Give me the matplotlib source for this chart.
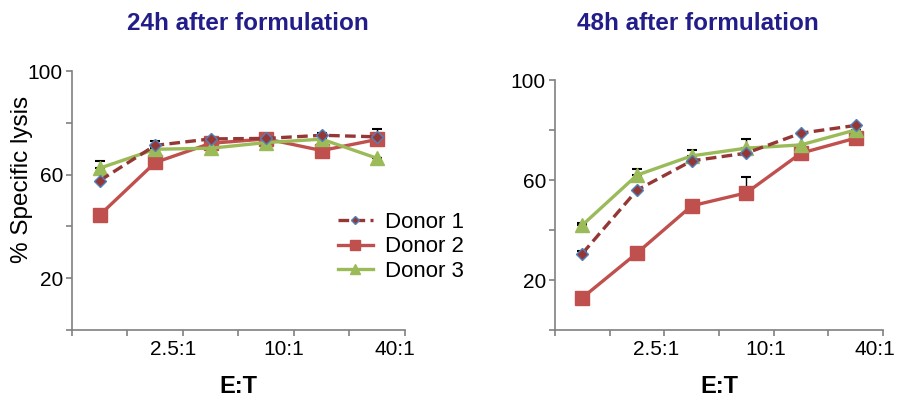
import matplotlib
matplotlib.use("Agg")
import matplotlib.pyplot as plt
from matplotlib.transforms import ScaledTranslation

plt.rcParams['font.family'] = ['Liberation Sans', 'DejaVu Sans']

# E:T categories (only every other one is labelled on the axis)
tick_labels = ['', '', '2.5:1', '', '10:1', '', '40:1']
x_pos = [0.5, 1.5, 2.5, 3.5, 4.5, 5.5]

# 24h after formulation
d1_24 = [57.7, 71.3, 73.8, 74.0, 75.2, 74.6]
d2_24 = [44.4, 64.7, 72.1, 73.8, 69.3, 73.6]
d3_24 = [62.5, 69.8, 70.2, 72.4, 73.7, 66.3]
d1_24_err = [0.0, 1.5, 0.0, 0.0, 1.0, 3.2]
d2_24_err = [0.0, 0.0, 0.0, 0.0, 0.0, 1.0]
d3_24_err = [2.6, 1.0, 0.0, 0.0, 0.0, 0.0]

# 48h after formulation
d1_48 = [30.6, 56.0, 67.7, 70.8, 78.8, 81.9]
d2_48 = [12.9, 30.8, 49.7, 54.9, 70.8, 76.8]
d3_48 = [42.0, 62.0, 69.7, 72.8, 74.1, 80.1]
d1_48_err = [1.0, 0.0, 0.0, 0.0, 0.0, 0.0]
d2_48_err = [0.0, 0.0, 0.0, 6.2, 0.0, 0.0]
d3_48_err = [0.8, 2.3, 2.4, 3.8, 0.0, 0.0]

labels = ['Donor 1', 'Donor 2', 'Donor 3']
c1 = '#953735'
c2 = '#C0504D'
c3 = '#9BBB59'
title_color = '#221D89'
spine_color = '#808080'

fig = plt.figure(figsize=(9.01, 3.99), dpi=100)
ax1 = fig.add_axes([0.0799, 0.1729, 0.3696, 0.649])
ax2 = fig.add_axes([0.616, 0.173, 0.364, 0.626])


def draw(ax, d1, d2, d3, e1, e2, e3, shift):
    for vals, errs in ((d1, e1), (d2, e2), (d3, e3)):
        ax.errorbar(x_pos, vals, yerr=[[0] * len(errs), errs], fmt='none',
                    ecolor='black', elinewidth=1, capsize=3.5, capthick=1.5, zorder=1)
    ax.plot(x_pos, d2, color=c2, lw=2.4, marker='s', ms=9.5, mec=c2, zorder=3, label=labels[1])
    ax.plot(x_pos, d3, color=c3, lw=2.4, marker='^', ms=10, mec=c3, zorder=4, label=labels[2])
    ax.plot(x_pos, d1, color=c1, lw=2.4, ls=(0, (3.2, 1.6)), marker='D', ms=6.5,
            mfc=c1, mec='#4F81BD', mew=1.0, zorder=5, label=labels[0])
    ax.set_xlim(0, 6)
    ax.set_ylim(0, 100)
    ax.set_xticks(range(7))
    ax.set_xticklabels(tick_labels, fontsize=15)
    ax.set_yticks([0, 20, 40, 60, 80, 100])
    ax.set_yticklabels(['', '20', '', '60', '', '100'], fontsize=15)
    for s in ('top', 'right'):
        ax.spines[s].set_visible(False)
    for s in ('left', 'bottom'):
        ax.spines[s].set_color(spine_color)
        ax.spines[s].set_linewidth(1.2)
    ax.tick_params(axis='both', colors=spine_color, labelcolor='black', length=4.5, width=1.2, pad=2)
    ax.tick_params(axis='x', pad=3)
    # labels sit a little left of their tick marks
    off = ScaledTranslation(-shift / 100, 0, fig.dpi_scale_trans)
    for t in ax.get_xticklabels():
        t.set_transform(t.get_transform() + off)
    ax.set_xlabel('E:T', fontsize=17, fontweight='bold', labelpad=11)


draw(ax1, d1_24, d2_24, d3_24, d1_24_err, d2_24_err, d3_24_err, 10)
draw(ax2, d1_48, d2_48, d3_48, d1_48_err, d2_48_err, d3_48_err, 8)

ax1.set_ylabel('% Specific lysis', fontsize=17.5)
ax1.yaxis.set_label_coords(-0.117, 0.58)

fig.text(248 / 901, 1 - 23 / 399, '24h after formulation', ha='center', va='center',
         fontsize=17.5, fontweight='bold', color=title_color)
fig.text(698 / 901, 1 - 23 / 399, '48h after formulation', ha='center', va='center',
         fontsize=17.5, fontweight='bold', color=title_color)

h, l = ax1.get_legend_handles_labels()
order = [2, 0, 1]
fig.legend([h[i] for i in order], [l[i] for i in order], loc='upper left',
           bbox_to_anchor=(327 / 901, 1 - 201 / 399), frameon=False, fontsize=16,
           borderpad=0, handlelength=1.55, handletextpad=0.55, labelspacing=0.15,
           markerscale=0.7, numpoints=1)

fig.savefig('out.png', dpi=100)
